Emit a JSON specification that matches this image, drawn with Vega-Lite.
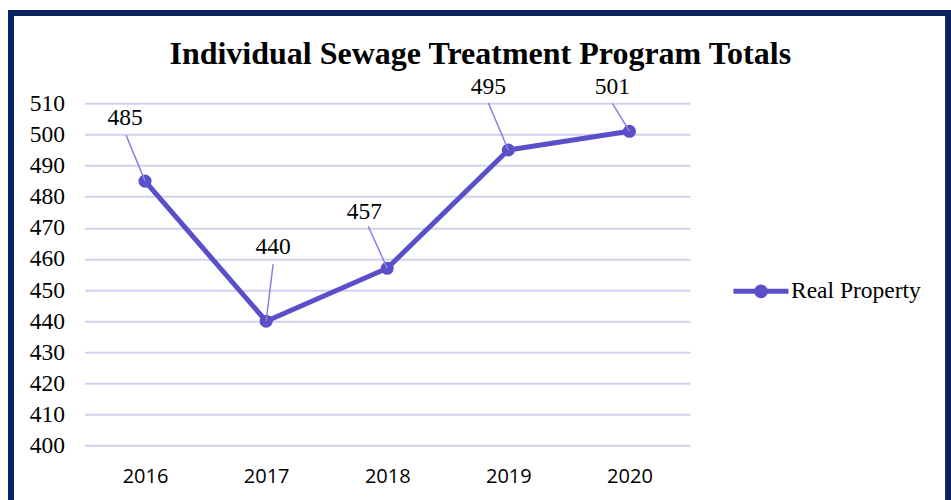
{
  "$schema": "https://vega.github.io/schema/vega-lite/v6.json",
  "width": 605.5,
  "height": 342.4,
  "autosize": {"type": "none"},
  "padding": {"left": 84.5, "top": 103.3, "right": 261, "bottom": 54.3},
  "background": "white",
  "title": {
    "text": "Individual Sewage Treatment Program Totals",
    "font": "Liberation Serif",
    "fontSize": 32,
    "fontWeight": "bold",
    "color": "black",
    "anchor": "middle",
    "frame": "group",
    "dx": 93,
    "offset": -86,
    "baseline": "alphabetic"
  },
  "config": {
    "view": {"stroke": null},
    "axisY": {"tickCount": 12, "tickMinStep": 10}
  },
  "datasets": {
    "totals": [
      {"year": 2016, "value": 485, "series": "Real Property"},
      {"year": 2017, "value": 440, "series": "Real Property"},
      {"year": 2018, "value": 457, "series": "Real Property"},
      {"year": 2019, "value": 495, "series": "Real Property"},
      {"year": 2020, "value": 501, "series": "Real Property"}
    ],
    "frame": [{"name": "frame"}]
  },
  "layer": [
    {
      "data": {"name": "totals"},
      "mark": {"type": "line", "strokeWidth": 5, "strokeJoin": "round", "strokeCap": "round"},
      "encoding": {
        "x": {
          "field": "year", "type": "quantitative",
          "scale": {"domain": [2015.5, 2020.5], "nice": false, "zero": false},
          "axis": {
            "values": [2016, 2017, 2018, 2019, 2020], "format": "d", "title": null,
            "grid": false, "domain": false, "ticks": false, "labelFlush": false, "labelOverlap": false,
            "labelFont": "Open Sans", "labelFontSize": 20, "labelColor": "black", "labelPadding": 21
          }
        },
        "y": {
          "field": "value", "type": "quantitative",
          "scale": {"domain": [400, 510], "nice": false, "zero": false},
          "axis": {
            "values": [400, 410, 420, 430, 440, 450, 460, 470, 480, 490, 500, 510], "tickCount": 12, "title": null,
            "grid": true, "gridColor": "#D3CFEF", "gridWidth": 2, "domain": false, "ticks": false,
            "labelFont": "Liberation Serif", "labelFontSize": 23.5, "labelColor": "black", "labelPadding": 20,
            "labelOverlap": false, "labelFlush": false
          }
        },
        "color": {
          "field": "series", "type": "nominal",
          "scale": {"range": ["#5A4FC8"]},
          "legend": {
            "title": null, "orient": "none", "legendX": 646.5, "legendY": 158, "padding": 0,
            "symbolType": "M-1,0H1M0.16,0A0.16,0.16,0,1,1,-0.16,0A0.16,0.16,0,1,1,0.16,0Z",
            "symbolSize": 3025, "symbolStrokeWidth": 5,
            "labelFont": "Liberation Serif", "labelFontSize": 23.5, "labelColor": "black", "labelOffset": 0,
            "labelLimit": 300,
            "encode": {"symbols": {"update": {"fill": {"value": "#5A4FC8"}, "stroke": {"value": "#5A4FC8"}, "strokeWidth": {"value": 5}, "opacity": {"value": 1}}}}
          }
        }
      }
    },
    {
      "data": {"name": "totals"},
      "mark": {"type": "point", "filled": true, "size": 170, "color": "#5A4FC8", "opacity": 1},
      "encoding": {
        "x": {"field": "year", "type": "quantitative"},
        "y": {"field": "value", "type": "quantitative"}
      }
    },
    {
      "data": {"name": "totals"},
      "mark": {
        "type": "rule", "color": "#8981DD", "strokeWidth": 1.5,
        "x2Offset": {"expr": "datum.year==2016?-19:datum.year==2017?7:datum.year==2018?-19:datum.year==2019?-20:-17"},
        "y2Offset": {"expr": "datum.year==2016?-46:datum.year==2017?-57:datum.year==2018?-42:datum.year==2019?-47:-28"}
      },
      "encoding": {
        "x": {"field": "year", "type": "quantitative"},
        "y": {"field": "value", "type": "quantitative"},
        "x2": {"field": "year"},
        "y2": {"field": "value"}
      }
    },
    {
      "data": {"name": "totals"},
      "mark": {
        "type": "text", "font": "Liberation Serif", "fontSize": 23.5, "color": "black", "baseline": "middle", "align": "center",
        "dx": {"expr": "datum.year==2016?-20:datum.year==2017?7:datum.year==2018?-23:datum.year==2019?-20:-17"},
        "dy": {"expr": "datum.year==2016?-63:datum.year==2017?-74:datum.year==2018?-56:datum.year==2019?-63:-44"}
      },
      "encoding": {
        "x": {"field": "year", "type": "quantitative"},
        "y": {"field": "value", "type": "quantitative"},
        "text": {"field": "value", "type": "quantitative"}
      }
    },
    {
      "data": {"name": "frame"},
      "mark": {"type": "rect", "filled": false, "color": "#0A2463", "strokeWidth": 6, "clip": false},
      "encoding": {
        "x": {"datum": 2014.893, "type": "quantitative"},
        "x2": {"datum": 2022.631},
        "y": {"datum": 539, "type": "quantitative"},
        "y2": {"datum": 360}
      }
    }
  ]
}
